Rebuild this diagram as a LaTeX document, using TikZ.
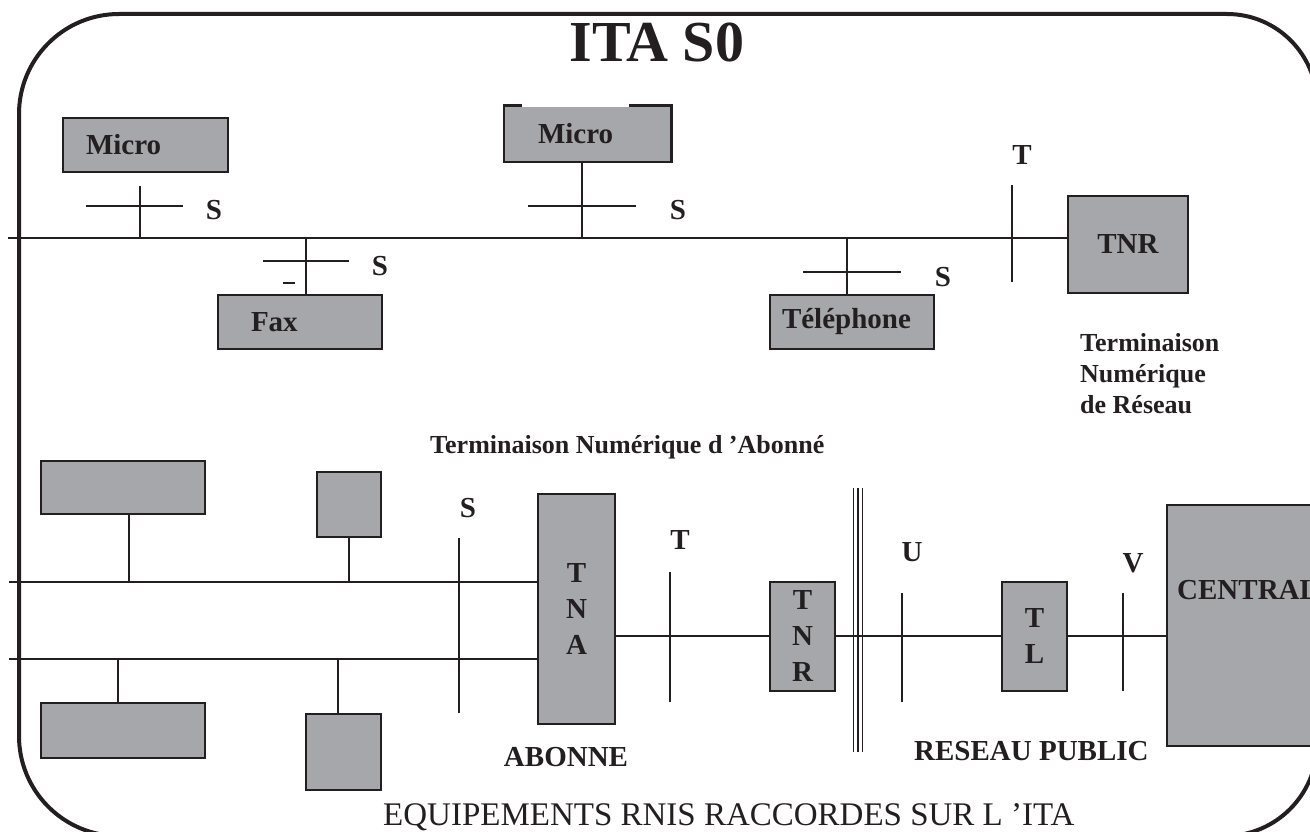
\documentclass[tikz,border=0pt]{standalone}
\usepackage{fontspec}
\setmainfont{Liberation Serif}
\usepackage{tikz}
\usetikzlibrary{positioning,calc}
\definecolor{ink}{RGB}{35,31,32}
\definecolor{boxgrey}{RGB}{166,167,171}

\begin{document}
\begin{tikzpicture}[
  x=1pt, y=-1pt, color=ink,
  dev/.style={
    rectangle, draw=ink, fill=boxgrey, line width=2.5pt,
    font=\fontsize{29}{36}\selectfont\bfseries,
    align=center, inner sep=0pt
  },
  devl/.style={dev, align=left},
  lbl/.style={font=\fontsize{29}{30}\selectfont\bfseries, inner sep=0pt},
  note/.style={font=\fontsize{26}{31}\selectfont\bfseries, inner sep=0pt, align=left},
  wire/.style={line width=2pt},
  frame/.style={line width=4pt}
]
\useasboundingbox (0,0) rectangle (1310,832);
\clip (0,0) rectangle (1310,832);

% outer frame
\draw[frame] (19,400) [rounded corners=100pt] -- (19,14)
  [rounded corners=90pt] -- (1317,14) [rounded corners=92pt] -- (1317,836)
  [rounded corners=100pt] -- (19,836) -- cycle;

\node[font=\fontsize{58}{60}\selectfont\bfseries, inner sep=0pt] (title) at (657,42) {ITA S0};

% ---- S bus (top)
\node[devl, minimum width=165, minimum height=54, inner xsep=23pt, text width=119pt] (micro1) at (145.5,145) {Micro};
\node[devl, minimum width=164, minimum height=54, inner xsep=33pt, text width=98pt]  (fax)    at (300,322)   {Fax};
\node[devl, draw=none, minimum width=165, minimum height=54, inner xsep=33pt, text width=99pt] (micro2) at (587.5,134) {Micro};
\node[devl, minimum width=164, minimum height=54, inner xsep=12pt, text width=140pt] (tel)   at (852,322)   {Téléphone};
\node[dev, minimum width=120, minimum height=97] (tnr) at (1128,244.5) {TNR};

\draw[line width=2.5pt] ([xshift=18pt]micro2.north west) -| (micro2.south west)
  -| (micro2.north east) -- ++(-42,0);

\coordinate (bus1) at (8,238);
\coordinate (t1) at (140,238);
\coordinate (t2) at (306,238);
\coordinate (t3) at (582,238);
\coordinate (t4) at (847,238);

\draw[wire] (bus1) -- (bus1 -| tnr.west);
\draw[wire] (t1) -- ($(t1 |- micro1.south)+(0,13)$);
\draw[wire] (t2) -- (t2 |- fax.north);
\draw[wire] (t3) -- (t3 |- micro2.south);
\draw[wire] (t4) -- (t4 |- tel.north);

\draw[wire] (86,206) -- (183,206);
\draw[wire] (263,261) -- (349,261);
\draw[wire] (283,283) -- (295,283);
\draw[wire] (528,206) -- (636,206);
\draw[wire] (803,272) -- (901,272);
\draw[wire] (1012,185) -- (1012,282);

\node[lbl] (sa) at (214,210) {S};
\node[lbl] (sb) at (380,266) {S};
\node[lbl] (sc) at (678,210) {S};
\node[lbl] (sd) at (943,277) {S};
\node[lbl] (ta) at (1022,155) {T};

\node[note, anchor=north west] (tnrnote) at (1080,333) {Terminaison\\Numérique\\de Réseau};
\node[note, anchor=base west] (tnanote) at (430,453) {Terminaison Numérique d 'Abonné};

% ---- subscriber side (bottom)
\node[dev, minimum width=164, minimum height=53] (boxa) at (123,487.5) {};
\node[dev, minimum width=64, minimum height=65]  (boxb) at (349,504.5) {};
\node[dev, minimum width=164, minimum height=55] (boxc) at (123,730.5) {};
\node[dev, minimum width=75, minimum height=76]  (boxd) at (343.5,752) {};
\node[dev, minimum width=77, minimum height=230] (tna)  at (576.5,609) {T\\N\\A};
\node[dev, minimum width=65, minimum height=109] (tnr2) at (802.5,636.5) {T\\N\\R};
\node[dev, minimum width=65, minimum height=109] (tl)   at (1034.5,636.5) {T\\L};
\node[dev, minimum width=163, minimum height=241] (central) at (1248.5,625.5) {};
\node[lbl, anchor=west] (centraltxt) at (1177,590) {CENTRAL};

\coordinate (busu) at (9,582);
\coordinate (busl) at (9,659);
\coordinate (u1) at (129,582);
\coordinate (u2) at (349,582);
\coordinate (l1) at (118,659);
\coordinate (l2) at (338,659);
\coordinate (lnk) at (0,636);

\draw[wire] (busu) -- (busu -| tna.west);
\draw[wire] (busl) -- (busl -| tna.west);
\draw[wire] (u1) -- (u1 |- boxa.south);
\draw[wire] (u2) -- (u2 |- boxb.south);
\draw[wire] (l1) -- (l1 |- boxc.north);
\draw[wire] (l2) -- (l2 |- boxd.north);
\draw[wire] (tna.east |- lnk) -- (tnr2.west |- lnk);
\draw[wire] (tnr2.east |- lnk) -- (tl.west |- lnk);
\draw[wire] (tl.east |- lnk) -- (central.west |- lnk);

\draw[wire] (459,538) -- (459,713);
\draw[wire] (670,572) -- (670,702);
\draw[wire] (902,593) -- (902,702);
\draw[wire] (1123,593) -- (1123,691);
\foreach \x in {853.5,858,862.5}
  \draw[line width=1.8pt] (\x,488) -- (\x,752);

\node[lbl] (se) at (468,508) {S};
\node[lbl] (tb) at (680,540) {T};
\node[lbl] (ua) at (912,552) {U};
\node[lbl] (va) at (1133,563) {V};

\node[lbl, anchor=base] (abonne) at (566,766) {ABONNE};
\node[lbl, anchor=base west] (reseau) at (914,760) {RESEAU PUBLIC};
\node[font=\fontsize{33}{34}\selectfont, inner sep=0pt, anchor=base west] (caption) at (383,825) {EQUIPEMENTS RNIS RACCORDES SUR L 'ITA};

\end{tikzpicture}
\end{document}
